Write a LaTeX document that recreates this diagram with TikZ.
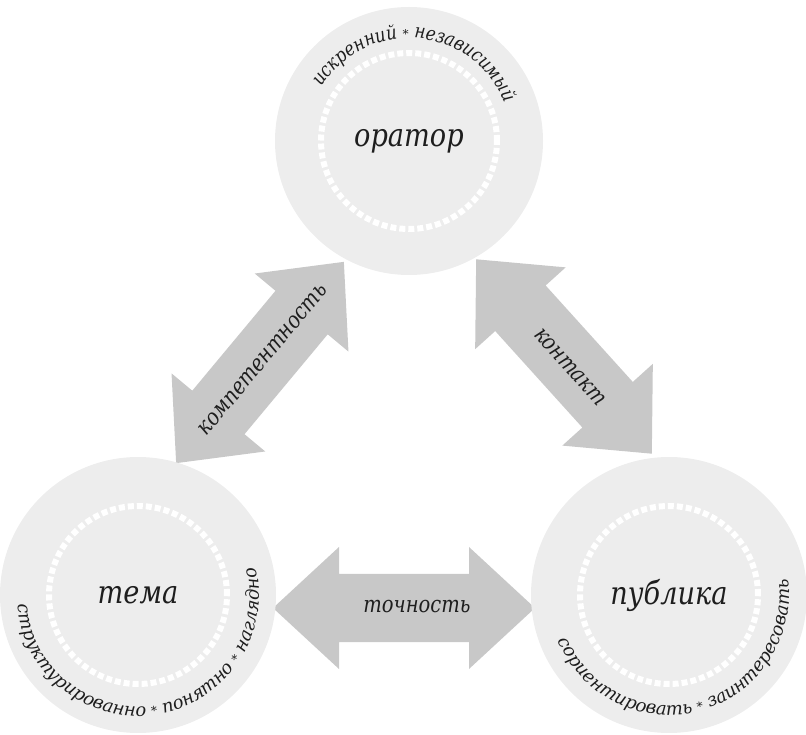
\documentclass[tikz,border=0pt]{standalone}
\usepackage{fontspec}
\setmainfont{DejaVu Serif}
\newfontfamily\narrowserif{DejaVu Serif}[FakeStretch=0.85]
\usetikzlibrary{decorations.text}

\definecolor{discgray}{HTML}{EDEDED}
\definecolor{arrowgray}{HTML}{C8C8C8}
\definecolor{inkgray}{HTML}{1E1E1E}

\newcommand{\bigfont}{\narrowserif\fontsize{32}{38}\selectfont\itshape}
\newcommand{\midfont}{\narrowserif\fontsize{23}{28}\selectfont\itshape}
\newcommand{\arcfont}{\fontsize{18}{22}\selectfont\itshape}
\newcommand{\toparcfont}{\narrowserif\fontsize{19.5}{23}\selectfont\itshape}
\newcommand{\starfont}{\fontsize{12}{14}\selectfont\upshape}

\tikzset{
	disc/.style={circle, fill=discgray, minimum size=276pt, inner sep=0pt, text=inkgray, font=\bigfont},
	dashring/.style={white, line width=6pt, dash pattern=on 6pt off 3pt},
	arrowlabel/.style={text=inkgray, font=\midfont, inner sep=0pt},
	dblarrow/.pic={
		\fill[arrowgray] (-131,0) -- (-65,61) -- (-65,34) -- (65,34) -- (65,61) -- (131,0)
			-- (65,-61) -- (65,-34) -- (-65,-34) -- (-65,-61) -- cycle;
	},
	arctext/.style={decorate, decoration={text along path, text align=center, text color=inkgray, text={#1}}}
}

\begin{document}
\begin{tikzpicture}[x=1pt, y=1pt]
	\useasboundingbox (0,0) rectangle (806,734);
	\coordinate (arrKomp) at (260,371.5);
	\coordinate (arrKont) at (564,377.5);
	\coordinate (arrToch) at (404,126);
	\pic[rotate=50.2] at (arrKomp) {dblarrow};
	\pic[rotate=-47.9] at (arrKont) {dblarrow};
	\pic at (arrToch) {dblarrow};
	\node[disc, minimum size=268pt] (orator) at (409,593) {оратор};
	\node[disc] (tema) at (138,139) {тема};
	\node[disc] (publika) at (669,139) {публика};
	\draw[dashring] (orator.center) circle[radius=88];
	\draw[dashring] (tema.center) circle[radius=89];
	\draw[dashring] (publika.center) circle[radius=89];
	\node[arrowlabel, rotate=50.2] (komp) at (263,374) {компетентность};
	\node[arrowlabel, rotate=-47.9] (kont) at (570,367) {контакт};
	\node[arrowlabel] (toch) at (417,127) {точность};
	\path[arctext={|\toparcfont|искренний |\starfont|*|\toparcfont| независимый}] (orator.center) ++(175:103) arc[start angle=175, end angle=-5, radius=103];
	\path[arctext={|\arcfont|структурированно |\starfont|*|\arcfont| понятно |\starfont|*|\arcfont| наглядно}] (tema.center) ++(184:121) arc[start angle=184, end angle=374, radius=121];
	\path[arctext={|\arcfont|сориентировать |\starfont|*|\arcfont| заинтересовать}] (publika.center) ++(190:120) arc[start angle=190, end angle=380, radius=120];
\end{tikzpicture}
\end{document}
